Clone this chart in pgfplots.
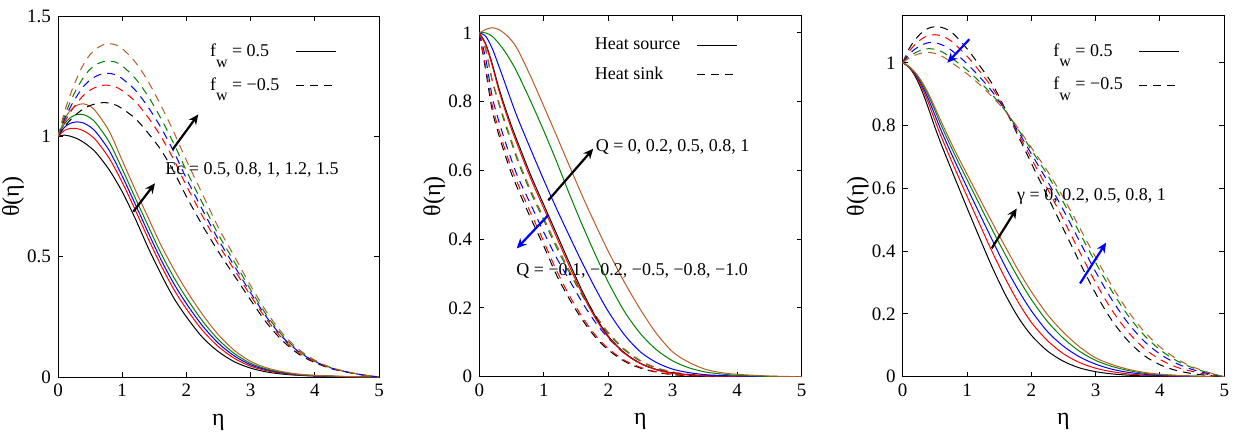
\documentclass[border=0pt]{standalone}
\usepackage{fontspec}
\setmainfont{Liberation Serif}
\usepackage{pgfplots}
\pgfplotsset{compat=1.18}
\usepackage{pgfplotstable}
\usetikzlibrary{arrows.meta}

\definecolor{cbrown}{RGB}{184,92,38}
\definecolor{cgreen}{RGB}{0,128,0}
\newcommand{\fw}{f\raisebox{-1.3ex}[0pt][0pt]{\fontsize{8}{8}\selectfont w}}

% panel 1: Ec, columns black red blue green brown
\pgfplotstableread{
eta k r b g n
0 1 1 1 1 1
0.1 1.005 1.0245 1.0375 1.0518 1.07
0.2 1.0 1.033 1.055 1.079 1.11
0.3 0.99 1.032 1.06 1.091 1.13
0.4 0.975 1.023 1.055 1.090 1.135
0.5 0.955 1.006 1.04 1.077 1.125
0.6 0.93 0.981 1.015 1.052 1.10
0.8 0.86 0.908 0.94 0.975 1.02
1.0 0.77 0.809 0.835 0.864 0.90
1.2 0.66 0.696 0.72 0.746 0.78
1.4 0.54 0.578 0.603 0.63 0.665
1.6 0.43 0.466 0.49 0.516 0.55
1.8 0.33 0.366 0.39 0.416 0.45
2.0 0.25 0.283 0.305 0.329 0.36
2.25 0.165 0.194 0.213 0.233 0.26
2.5 0.105 0.126 0.14 0.155 0.175
2.75 0.063 0.077 0.087 0.097 0.11
3.0 0.037 0.045 0.051 0.057 0.065
3.25 0.021 0.026 0.03 0.033 0.038
3.5 0.012 0.015 0.017 0.019 0.022
3.75 0.007 0.008 0.009 0.01 0.012
4.0 0.004 0.005 0.0055 0.006 0.007
4.5 0.001 0.001 0.0015 0.0017 0.002
5.0 0 0 0 0 0
}\ecs
\pgfplotstableread{
eta k r b g n
0 1 1 1 1 1
0.1 1.04 1.058 1.07 1.083 1.10
0.2 1.07 1.103 1.125 1.148 1.18
0.3 1.095 1.14 1.17 1.202 1.245
0.4 1.115 1.171 1.208 1.246 1.30
0.5 1.128 1.192 1.234 1.279 1.34
0.6 1.136 1.205 1.251 1.299 1.365
0.7 1.14 1.212 1.26 1.310 1.38
0.8 1.138 1.212 1.262 1.313 1.385
0.9 1.13 1.205 1.255 1.308 1.38
1.0 1.115 1.19 1.24 1.293 1.365
1.2 1.075 1.146 1.193 1.242 1.31
1.4 1.015 1.08 1.123 1.168 1.23
1.6 0.945 1.001 1.038 1.076 1.13
1.8 0.855 0.905 0.938 0.972 1.02
2.0 0.75 0.795 0.825 0.857 0.90
2.25 0.63 0.669 0.695 0.722 0.76
2.5 0.52 0.55 0.57 0.591 0.62
2.75 0.42 0.444 0.46 0.477 0.50
3.0 0.32 0.338 0.35 0.363 0.38
3.25 0.225 0.239 0.248 0.257 0.27
3.5 0.15 0.159 0.165 0.171 0.18
3.75 0.095 0.101 0.105 0.109 0.115
4.0 0.06 0.063 0.065 0.067 0.07
4.25 0.035 0.037 0.038 0.039 0.04
4.5 0.02 0.021 0.021 0.021 0.022
4.75 0.008 0.008 0.009 0.009 0.009
5.0 0 0 0 0 0
}\ecd

% panel 2: heat source / sink
\pgfplotstableread{
eta k r b g n
0 1 1 1 1 1
0.1 0.968 0.965 0.99 1.0 1.01
0.2 0.91 0.905 0.955 0.99 1.015
0.3 0.842 0.835 0.905 0.97 1.01
0.4 0.783 0.775 0.853 0.945 0.997
0.5 0.729 0.72 0.80 0.915 0.978
0.6 0.68 0.67 0.75 0.88 0.95
0.8 0.585 0.575 0.66 0.80 0.872
1.0 0.5 0.49 0.572 0.715 0.787
1.2 0.415 0.405 0.488 0.625 0.70
1.4 0.33 0.32 0.408 0.53 0.612
1.6 0.248 0.24 0.33 0.44 0.525
1.8 0.176 0.17 0.257 0.355 0.443
2.0 0.118 0.115 0.19 0.275 0.365
2.25 0.07 0.068 0.122 0.19 0.275
2.5 0.039 0.038 0.072 0.125 0.195
2.75 0.021 0.02 0.041 0.078 0.125
3.0 0.011 0.01 0.022 0.046 0.072
3.25 0.006 0.0055 0.012 0.026 0.042
3.5 0.003 0.003 0.006 0.014 0.022
3.75 0.0018 0.0017 0.0035 0.008 0.012
4.0 0.001 0.001 0.002 0.004 0.007
4.5 0 0 0.0005 0.001 0.002
5.0 0 0 0 0 0
}\qs
\pgfplotstableread{
eta k r b g n
0 1 1 1 1 1
0.1 0.89 0.9 0.925 0.95 0.953
0.2 0.775 0.79 0.815 0.86 0.865
0.3 0.705 0.72 0.745 0.795 0.8
0.4 0.645 0.66 0.685 0.735 0.742
0.5 0.59 0.605 0.63 0.68 0.687
0.6 0.545 0.56 0.58 0.625 0.632
0.8 0.46 0.475 0.5 0.535 0.542
1.0 0.38 0.393 0.42 0.455 0.462
1.2 0.295 0.308 0.345 0.375 0.382
1.4 0.225 0.235 0.28 0.302 0.308
1.6 0.165 0.173 0.215 0.235 0.24
1.8 0.115 0.121 0.158 0.175 0.18
2.0 0.078 0.082 0.112 0.125 0.129
2.25 0.045 0.048 0.068 0.078 0.081
2.5 0.025 0.027 0.038 0.045 0.047
2.75 0.013 0.014 0.02 0.025 0.026
3.0 0.006 0.007 0.01 0.013 0.014
3.25 0.003 0.0035 0.005 0.0065 0.007
3.5 0.001 0.0015 0.002 0.003 0.003
3.75 0.0004 0.0005 0.0008 0.0012 0.0012
4.0 0 0 0 0.0005 0.0005
5.0 0 0 0 0 0
}\qd

% panel 3: gamma
\pgfplotstableread{
eta k r b g n
0 1 1 1 1 1
0.1 0.985 0.986 0.987 0.988 0.988
0.2 0.955 0.96 0.963 0.966 0.968
0.3 0.91 0.92 0.928 0.934 0.939
0.4 0.855 0.872 0.884 0.895 0.902
0.5 0.795 0.817 0.834 0.849 0.858
0.6 0.74 0.764 0.783 0.80 0.812
0.8 0.638 0.668 0.691 0.711 0.725
1.0 0.538 0.575 0.603 0.628 0.645
1.2 0.44 0.484 0.517 0.546 0.566
1.4 0.345 0.394 0.432 0.465 0.488
1.6 0.26 0.311 0.349 0.387 0.412
1.8 0.188 0.236 0.275 0.313 0.338
2.0 0.132 0.173 0.21 0.246 0.271
2.25 0.082 0.115 0.144 0.176 0.198
2.5 0.049 0.073 0.097 0.122 0.141
2.75 0.028 0.045 0.063 0.081 0.095
3.0 0.016 0.027 0.04 0.052 0.06
3.25 0.009 0.016 0.024 0.033 0.039
3.5 0.005 0.009 0.014 0.02 0.024
3.75 0.0025 0.005 0.008 0.011 0.014
4.0 0.001 0.003 0.004 0.006 0.008
4.5 0 0.0005 0.001 0.002 0.002
5.0 0 0 0 0 0
}\gs
\pgfplotstableread{
eta k r b g n
0 1 1 1 1 1
0.1 1.045 1.036 1.027 1.0195 1.015
0.2 1.075 1.06 1.045 1.0325 1.025
0.3 1.097 1.077 1.057 1.041 1.031
0.4 1.11 1.087 1.064 1.045 1.033
0.5 1.115 1.0895 1.064 1.043 1.03
0.6 1.113 1.086 1.058 1.036 1.022
0.7 1.105 1.0765 1.048 1.024 1.01
0.8 1.09 1.0615 1.033 1.009 0.995
1.0 1.045 1.021 0.997 0.977 0.965
1.2 0.99 0.972 0.954 0.939 0.93
1.4 0.93 0.918 0.906 0.896 0.89
1.6 0.85 0.8485 0.847 0.846 0.845
1.8 0.765 0.7725 0.78 0.786 0.79
2.0 0.68 0.695 0.71 0.7225 0.73
2.25 0.575 0.599 0.623 0.643 0.655
2.5 0.47 0.50 0.53 0.555 0.57
2.75 0.365 0.398 0.431 0.4585 0.475
3.0 0.265 0.2995 0.334 0.363 0.38
3.25 0.18 0.213 0.246 0.2735 0.29
3.5 0.115 0.1435 0.172 0.196 0.21
3.75 0.068 0.091 0.114 0.133 0.145
4.0 0.038 0.055 0.072 0.086 0.095
4.25 0.02 0.031 0.043 0.052 0.058
4.5 0.01 0.017 0.023 0.029 0.032
4.75 0.004 0.007 0.010 0.0125 0.014
5.0 0 0 0 0 0
}\gd

\tikzset{
  dsh/.style={dash pattern=on 4pt off 3pt},
  arr/.style={-{Stealth[length=5pt,width=4.5pt]}, line width=1.1pt},
}
\pgfplotsset{
  panel/.style={
    scale only axis, height=180.5pt,
    xmin=0, xmax=5, xtick={0,1,2,3,4,5},
    tick align=inside, major tick length=2.5pt,
    axis line style={line width=0.5pt},
    every tick/.style={black, line width=0.5pt},
    tick label style={font=\fontsize{9.5}{10}\selectfont},
    /pgf/number format/assume math mode=true,
    xlabel={η}, ylabel={θ(η)},
    label style={font=\fontsize{12}{13}\selectfont},
    xlabel style={at={(axis description cs:0.5,-0.125)}, anchor=center},
    ylabel style={at={(axis description cs:-0.14,0.5)}, anchor=center},
    legend plot pos=right, legend cell align=left,
    legend image code/.code={\draw[##1] (0pt,0pt) -- (20pt,0pt);},
    legend style={draw=none, fill=none, inner sep=0pt,
      font=\fontsize{9}{10}\selectfont, column sep=6pt, row sep=5pt},
    no markers,
    every axis plot/.append style={line width=0.5pt, smooth},
  },
}

\begin{document}
\begin{tikzpicture}
\useasboundingbox (0,0) rectangle (617.5pt,218pt);

% ---- panel 1
\begin{axis}[panel, at={(29pt,29.5pt)}, anchor=south west, width=160.5pt,
  ymin=0, ymax=1.5, ytick={0,0.5,1,1.5},
  legend style={at={(0.46,0.935)}, anchor=north west}]
  \addlegendimage{black}
  \addlegendentry{\fw\ =~0.5}
  \addlegendimage{black, dsh}
  \addlegendentry{\fw\ = −0.5}
  \addplot[black, forget plot] table[x=eta, y=k] {\ecs};
  \addplot[red, forget plot] table[x=eta, y=r] {\ecs};
  \addplot[blue, forget plot] table[x=eta, y=b] {\ecs};
  \addplot[cgreen, forget plot] table[x=eta, y=g] {\ecs};
  \addplot[cbrown, forget plot] table[x=eta, y=n] {\ecs};
  \addplot[black, dsh, forget plot] table[x=eta, y=k] {\ecd};
  \addplot[red, dsh, forget plot] table[x=eta, y=r] {\ecd};
  \addplot[blue, dsh, forget plot] table[x=eta, y=b] {\ecd};
  \addplot[cgreen, dsh, forget plot] table[x=eta, y=g] {\ecd};
  \addplot[cbrown, dsh, forget plot] table[x=eta, y=n] {\ecd};
  \draw[arr] (axis cs:1.173,0.687) -- (axis cs:1.511,0.805);
  \draw[arr] (axis cs:1.787,0.946) -- (axis cs:2.185,1.091);
  \node[anchor=west, inner sep=0pt, font=\fontsize{9}{10}\selectfont] at (axis cs:1.667,0.86) {Ec = 0.5, 0.8, 1, 1.2, 1.5};
\end{axis}

% ---- panel 2
\begin{axis}[panel, at={(239.65pt,29.65pt)}, anchor=south west, width=161.2pt,
  ymin=0, ymax=1.05, ytick={0,0.2,0.4,0.6,0.8,1},
  legend style={at={(0.345,0.95)}, anchor=north west, row sep=3pt}]
  \addlegendimage{black}
  \addlegendentry{Heat source}
  \addlegendimage{black, dsh}
  \addlegendentry{Heat sink}
  \addplot[black, dsh, forget plot] table[x=eta, y=k] {\qd};
  \addplot[red, dsh, forget plot] table[x=eta, y=r] {\qd};
  \addplot[blue, dsh, forget plot] table[x=eta, y=b] {\qd};
  \addplot[cgreen, dsh, forget plot] table[x=eta, y=g] {\qd};
  \addplot[cbrown, dsh, forget plot] table[x=eta, y=n] {\qd};
  \addplot[black, forget plot] table[x=eta, y=k] {\qs};
  \addplot[red, forget plot] table[x=eta, y=r] {\qs};
  \addplot[blue, forget plot] table[x=eta, y=b] {\qs};
  \addplot[cgreen, forget plot] table[x=eta, y=g] {\qs};
  \addplot[cbrown, forget plot] table[x=eta, y=n] {\qs};
  \draw[arr] (axis cs:1.07,0.513) -- (axis cs:1.767,0.663);
  \draw[arr, blue] (axis cs:1.07,0.47) -- (axis cs:0.58,0.373);
  \node[anchor=west, inner sep=0pt, font=\fontsize{9}{10}\selectfont] at (axis cs:1.80,0.668) {Q = 0, 0.2, 0.5, 0.8, 1};
  \node[anchor=west, inner sep=0pt, font=\fontsize{9}{10}\selectfont] at (axis cs:0.569,0.308) {Q = −0.1, −0.2, −0.5, −0.8, −1.0};
\end{axis}

% ---- panel 3
\begin{axis}[panel, at={(451.35pt,29.65pt)}, anchor=south west, width=160.8pt,
  ymin=0, ymax=1.15, ytick={0,0.2,0.4,0.6,0.8,1},
  legend style={at={(0.455,0.935)}, anchor=north west}]
  \addlegendimage{black}
  \addlegendentry{\fw\ =~0.5}
  \addlegendimage{black, dsh}
  \addlegendentry{\fw\ = −0.5}
  \addplot[black, forget plot] table[x=eta, y=k] {\gs};
  \addplot[red, forget plot] table[x=eta, y=r] {\gs};
  \addplot[blue, forget plot] table[x=eta, y=b] {\gs};
  \addplot[cgreen, forget plot] table[x=eta, y=g] {\gs};
  \addplot[cbrown, forget plot] table[x=eta, y=n] {\gs};
  \addplot[black, dsh, forget plot] table[x=eta, y=k] {\gd};
  \addplot[red, dsh, forget plot] table[x=eta, y=r] {\gd};
  \addplot[blue, dsh, forget plot] table[x=eta, y=b] {\gd};
  \addplot[cgreen, dsh, forget plot] table[x=eta, y=g] {\gd};
  \addplot[cbrown, dsh, forget plot] table[x=eta, y=n] {\gd};
  \draw[arr, blue] (axis cs:1.036,1.075) -- (axis cs:0.694,1.0);
  \draw[arr] (axis cs:1.384,0.409) -- (axis cs:1.773,0.536);
  \draw[arr, blue] (axis cs:2.757,0.297) -- (axis cs:3.162,0.427);
  \node[anchor=west, inner sep=0pt, font=\fontsize{9}{10}\selectfont] at (axis cs:1.773,0.573) {γ = 0, 0.2, 0.5, 0.8, 1};
\end{axis}
\end{tikzpicture}
\end{document}
